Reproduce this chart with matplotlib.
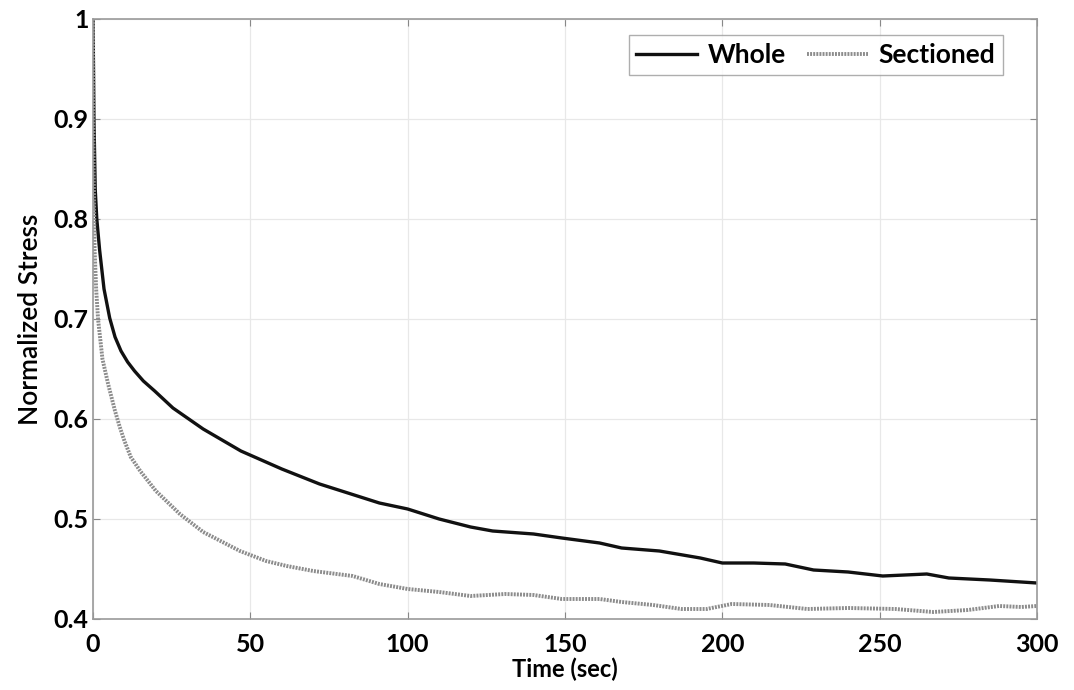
import numpy as np
import matplotlib.pyplot as plt

plt.rcParams['font.family'] = ['Lato', 'DejaVu Sans']

# stress relaxation, normalized to initial stress
t_whole = [0, 0.3, 0.7, 1.2, 2.1, 3.5, 5.3, 7, 8.9, 11, 13.2, 16, 19.6, 25.4,
           35, 47, 60, 72, 80, 91, 100, 110, 120, 127, 140, 149, 161, 168, 180,
           193, 200, 210, 220, 229, 240, 251, 258, 265, 272, 285, 300]
s_whole = [1.0, 0.90, 0.83, 0.80, 0.769, 0.73, 0.701, 0.682, 0.668, 0.657,
           0.648, 0.638, 0.628, 0.611, 0.59, 0.568, 0.55, 0.535, 0.527, 0.516,
           0.510, 0.50, 0.492, 0.488, 0.485, 0.481, 0.476, 0.471, 0.468,
           0.461, 0.456, 0.456, 0.455, 0.449, 0.447, 0.443, 0.444, 0.445,
           0.441, 0.439, 0.436]

t_sect = [0, 0.2, 0.5, 1.0, 1.6, 3, 4.8, 7, 8.5, 10, 12, 15, 20, 27.6, 35,
          46.7, 55, 61.6, 70, 82.5, 91, 100, 110, 120, 131, 140, 149, 161, 168,
          178, 187, 195, 203, 215, 227, 240, 255, 267, 278, 288, 295, 300]
s_sect = [1.0, 0.85, 0.77, 0.73, 0.70, 0.66, 0.635, 0.608, 0.592, 0.578,
          0.562, 0.548, 0.528, 0.505, 0.487, 0.468, 0.458, 0.453, 0.448,
          0.443, 0.435, 0.430, 0.427, 0.423, 0.425, 0.424, 0.420, 0.420,
          0.417, 0.414, 0.410, 0.410, 0.415, 0.414, 0.410, 0.411, 0.410,
          0.407, 0.409, 0.413, 0.412, 0.413]

fig = plt.figure(figsize=(10.74, 6.9), dpi=100)
ax = fig.add_axes([0.0866, 0.1029, 0.8789, 0.8696])

ax.plot(t_whole, s_whole, color='#111111', lw=2.4, label='Whole')
ax.plot(t_sect, s_sect, color='#8c8c8c', lw=2.8, ls=(0, (0.5, 0.3)),
        label='Sectioned')

ax.set_xlim(0, 300)
ax.set_ylim(0.4, 1.0)
ax.set_xticks(np.arange(0, 301, 50))
ax.set_yticks([0.4, 0.5, 0.6, 0.7, 0.8, 0.9, 1.0])
ax.set_yticklabels(['0.4', '0.5', '0.6', '0.7', '0.8', '0.9', '1'])
ax.grid(True, color='#e8e8e8', lw=0.9)
ax.tick_params(direction='in', length=5, color='#888888', top=True,
               right=True, labelsize=18)
ax.tick_params(axis='x', pad=10)
ax.tick_params(axis='y', pad=3)
for lab in ax.get_xticklabels() + ax.get_yticklabels():
    lab.set_fontweight('bold')
for sp in ax.spines.values():
    sp.set_color('#9a9a9a')
    sp.set_linewidth(1.2)

ax.set_xlabel('Time (sec)', fontsize=17, fontweight='bold', labelpad=1)
ax.set_ylabel('Normalized Stress', fontsize=19, fontweight='semibold',
              labelpad=8)

leg = ax.legend(loc='upper right', ncol=2, fontsize=19, frameon=True,
                fancybox=False, handlelength=2.3, columnspacing=0.8,
                handletextpad=0.4, borderpad=0.3, borderaxespad=0,
                bbox_to_anchor=(0.964, 0.973))
leg.get_frame().set_edgecolor('#9a9a9a')
leg.get_frame().set_linewidth(1.0)
for txt in leg.get_texts():
    txt.set_fontweight('bold')

fig.savefig('out.png')
